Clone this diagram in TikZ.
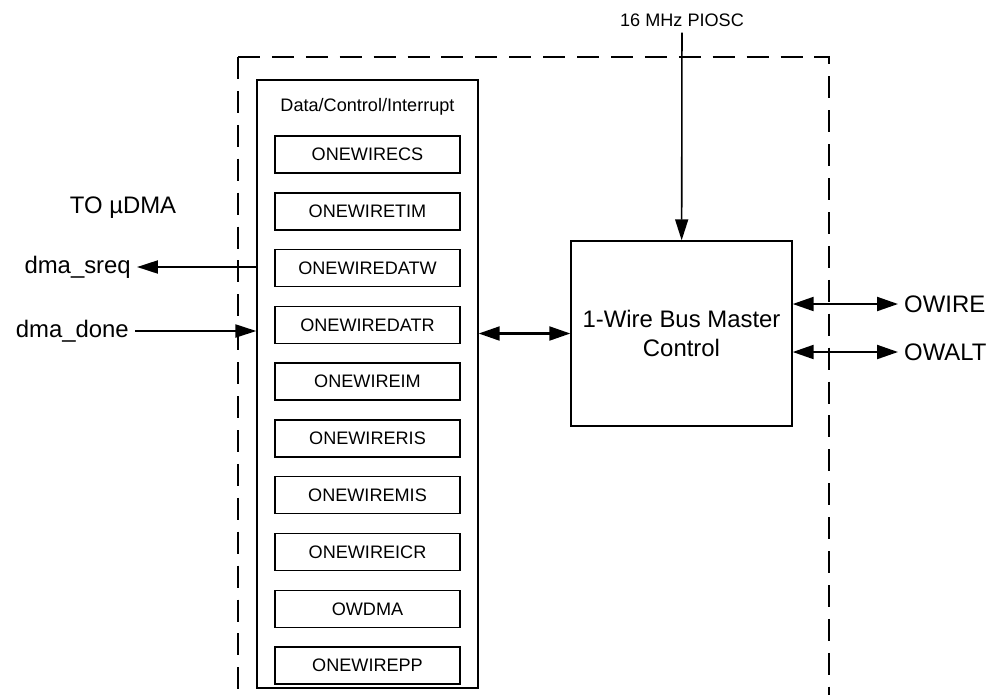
\documentclass[tikz,border=0pt]{standalone}
\usepackage{fontspec}
\setmainfont{Liberation Sans}
\usepackage{tikz}
\usetikzlibrary{positioning}
\usetikzlibrary{arrows.meta}
\newcommand{\smalltext}{\fontsize{10.3}{12.4}\selectfont}
\newcommand{\bigtext}{\fontsize{13.6}{16}\selectfont}

\begin{document}
\begin{tikzpicture}[
    x=0.02cm, y=-0.02cm,
    node distance=0.368cm,
    reg/.style={rectangle, draw, line width=0.8pt, minimum width=3.7cm, minimum height=0.74cm, inner sep=0pt, font=\smalltext},
    block/.style={rectangle, draw, line width=0.8pt, align=center},
    label/.style={font=\bigtext},
    arrow/.style={-{Triangle[length=4.2mm, width=2.6mm]}, line width=1.2pt},
    biarrow/.style={{Triangle[length=4.2mm, width=2.8mm]}-{Triangle[length=4.2mm, width=2.8mm]}, line width=1.2pt},
    frame/.style={line width=0.9pt, dash pattern=on 12.5pt off 6.8pt}
]
\useasboundingbox (0,0) rectangle (987,694);

% Frame
\draw[frame] (238,57) -- (238,700);
\draw[frame] (238,57) -- (829,57) -- (829,700);

% Register block
\node[block, minimum width=4.42cm, minimum height=12.16cm] (regs) at (367.5,384) {};
\node[font=\smalltext] (title) at (367.5,107) {Data/Control/Interrupt};
\node[reg] (cs) at (367.5,154.5) {ONEWIRECS};
\node[reg] (tim) [below=of cs] {ONEWIRETIM};
\node[reg] (datw) [below=of tim] {ONEWIREDATW};
\node[reg] (datr) [below=of datw] {ONEWIREDATR};
\node[reg] (im) [below=of datr] {ONEWIREIM};
\node[reg] (ris) [below=of im] {ONEWIRERIS};
\node[reg] (mis) [below=of ris] {ONEWIREMIS};
\node[reg] (icr) [below=of mis] {ONEWIREICR};
\node[reg] (owdma) [below=of icr] {OWDMA};
\node[reg] (pp) [below=of owdma] {ONEWIREPP};

% Master control
\node[block, minimum width=4.42cm, minimum height=3.7cm, font=\bigtext] (master) at (681.5,333.5) {1-Wire Bus Master\\Control};
\node[font=\smalltext] (piosc) at (682,20) {16 MHz PIOSC};

% Labels
\node[label] (todma) at (123,208) {TO µDMA};
\node[label, anchor=east] (sreq) at (137,267) {dma\_sreq};
\node[label, anchor=east] (done) at (135,331) {dma\_done};
\node[label, anchor=west] (owire) at (898,304) {OWIRE};
\node[label, anchor=west] (owalt) at (898,352) {OWALT};

% Paths
\draw[arrow, line width=0.9pt] (piosc) -- (master);
\draw[arrow] (sreq.east -| regs.west) -- (sreq);
\draw[arrow] (done) -- (done -| regs.west);
\draw[biarrow] (master.west -| regs.east) -- (master.west);
\draw[biarrow] (owire.west -| master.east) -- (owire.west);
\draw[biarrow] (owalt.west -| master.east) -- (owalt.west);

\end{tikzpicture}
\end{document}
